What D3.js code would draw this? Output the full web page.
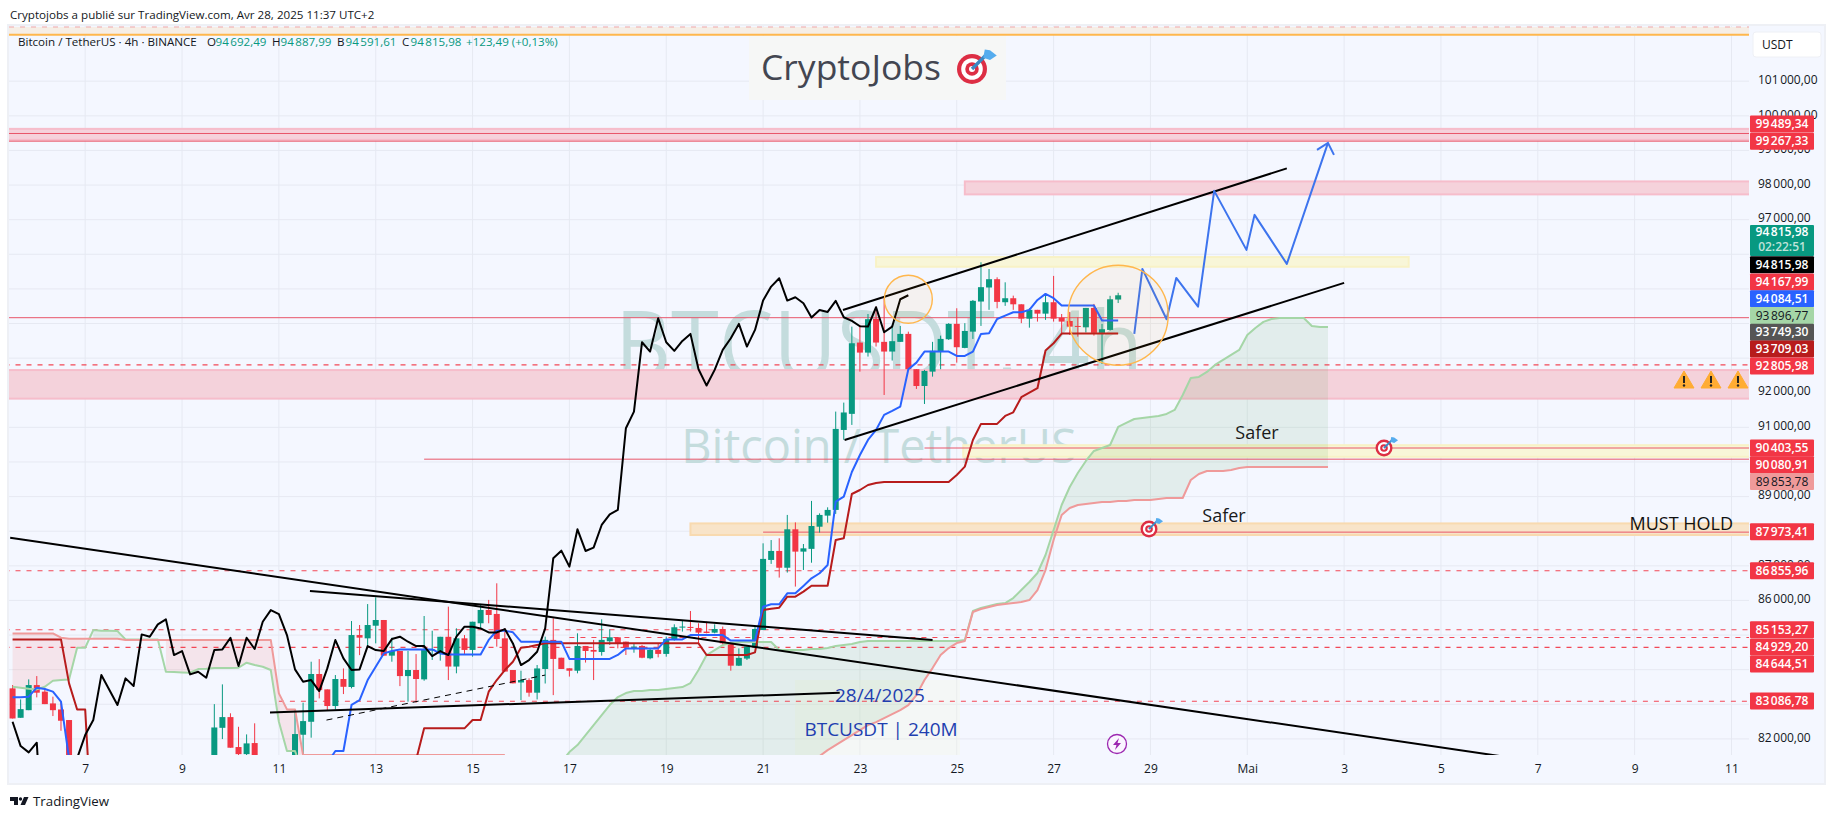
<!DOCTYPE html>
<html><head><meta charset="utf-8">
<script src="https://cdn.jsdelivr.net/npm/d3@7"></script>
<style>
html,body{margin:0;padding:0;background:#fff;width:1835px;height:819px;overflow:hidden}
svg{display:block}
text{font-family:"Open Sans","Noto Sans",sans-serif}
</style></head><body>
<svg id="c" width="1835" height="819"></svg>
<script>
// ---------- candles (4h bars, bar 0 = 7 April) ----------
const barIndex=[...d3.range(-9,-1),...d3.range(16,22),...d3.range(26,129)];
const opens=[83460,82610,82830,83555,83365,83025,82850,82545,
81300,82320,82630,81765,81560,81880,
81300,82120,82495,83875,83430,82950,83730,83500,85000,84905,
85270,85435,84405,84540,83815,83990,83720,84565,84540,84950,
84090,84905,84570,85340,85725,85610,84905,83990,83630,83700,
83335,84020,84860,84345,84040,83970,84685,84570,84510,84820,
84935,84810,84635,84685,84330,84570,84455,84860,85215,85235,
85205,85100,85070,85175,84790,84115,84320,84645,85145,87170,
87430,86945,88055,87410,87490,88130,88450,88615,90925,91390,
93450,93160,94135,93470,93190,93470,93700,92680,92195,92610,
93190,93545,93990,93295,93765,94635,95040,95280,94615,94730,
94555,94140,94395,94285,94615,94170,94075,93930,93890,94450,
93730,93815,94692.49];
const highs=[83555,83140,83720,83815,83460,83220,83075,82545,
83005,83575,82740,82350,82130,82450,
82830,83045,84230,84305,83430,83845,84035,85405,85290,85895,
86090,85435,84925,84540,84540,84450,85550,85125,84950,85820,
85195,85000,85385,85900,86015,86495,85195,83990,83970,83750,
84135,84955,85485,84345,84040,85050,84685,84860,85455,85165,
84935,84810,84760,84715,84615,84760,84955,85310,85435,85695,
85340,85385,85310,85245,84790,84615,84665,85270,87650,87745,
87795,88470,88255,87630,88875,88515,88690,91455,91715,93910,
93960,94275,94490,94780,93960,93930,93765,92680,92660,93470,
93650,94010,94440,94010,94680,95770,95575,95335,95190,94805,
94555,94440,94395,94875,95375,94275,94335,94180,94450,94565,
93990,94800,94887.99];
const lows=[82590,82610,82830,83200,83005,82660,82235,81300,
81200,81995,81745,81300,81300,81200,
81200,81500,82035,83170,82815,82850,83295,83460,84420,84645,
84760,84405,84230,83525,83075,83045,83680,84280,84260,83700,
83895,84425,84375,85195,85340,84665,83945,83605,83120,83220,
83140,83600,83265,84020,83800,83895,84205,83700,84405,84715,
84615,84425,84490,84330,84300,84355,84375,84840,85100,85100,
84760,85050,85050,84715,83970,84105,84280,84625,85145,87055,
86660,86805,86400,86880,87090,87960,88245,88500,90640,91070,
92610,93045,93335,91935,92930,93470,92680,92110,91675,92465,
92680,93525,92870,93285,93555,93930,94395,94440,94510,94395,
94010,93880,94055,94105,94055,93720,93670,93620,93740,93650,
92830,93795,94591.61];
const closes=[82590,82860,83555,83335,83005,82830,82525,81400,
82330,82630,81745,81560,81870,81300,
82140,82515,83875,83410,82950,83730,83505,85000,84925,85290,
85435,84405,84540,83815,83990,83730,84585,84585,84950,84090,
84905,84570,85385,85725,85580,84885,83945,83605,83700,83335,
84035,84860,84310,84020,83970,84685,84540,84520,84860,84935,
84760,84635,84665,84345,84570,84455,84885,85225,85245,85205,
85070,85060,85175,84760,84115,84340,84665,85175,87200,87430,
86945,88055,87410,87505,88150,88470,88615,90955,91430,93430,
93160,94125,93450,93190,93490,93700,92680,92195,92630,93210,
93555,93990,93315,93785,94655,95050,95280,94625,94730,94555,
94140,94395,94285,94615,94140,94055,93910,93910,94450,93730,
93835,94700,94815.98];

// ---------- Ichimoku series; each "start" is the bar of its first value ----------
const laggingLeft=[82496,81793,81610,81890,78000];               const laggingLeftStart=-9;
const laggingRight=[81440,82110,82544,83844,83411,82978,83748,83527,85019,84952,85308,85453,84422,84538,83864,83941,83767,84567,84586,84923,84104,84923,84596,85385,85722,85607,85000,84008,83652,83700,83382,84037,84856,84326,83989,84008,84682,84567,84538,84884,84952,84807,84682,84682,84393,84538,84422,84952,85241,85241,85192,85077,85077,85173,84759,84133,84278,84519,85192,87217,87438,86976,88055,87429,87525,88180,88488,88613,90974,91456,93459,93189,94152,93459,93209,93497,93700,92679,92207,92660,93237,93574,93989,93334,93815,94663,95067,95308,94663,94759,94586,94172,94393,94335,94653,94181,94075,93921,93911,94470,93748,93911,94701,94816];
const laggingRightStart=-1;
const conversionLeft=[83200,83200,83220,83480,83440,83365,83075,81435]; const conversionLeftStart=-9;
const conversionRight=[81300,81650,81650,82980,83120,83700,84085,84470,84540,84585,84585,84585,84585,84585,84470,84440,84440,84440,84440,84440,84860,85125,85125,85080,84810,84810,84810,84810,84810,84810,84310,84310,84310,84310,84310,84310,84425,84615,84615,84615,84615,84615,84875,84875,84875,85000,85000,85000,85000,85000,84840,84840,84840,84840,85820,85890,85890,86205,86205,86420,86640,86785,87025,88855,89000,89710,90200,90635,90925,91360,91475,91600,92680,92870,93190,93190,93190,93190,93065,93065,93190,93700,93720,94130,94230,94325,94325,94395,94680,94855,94730,94520,94520,94520,94520,94520,94085,94085,94084.51];
const conversionRightStart=30;
const baseLeft=[84875,84875,84875,84875,84875,84875,84875,83605,82850,82850,78600]; const baseLeftStart=-9;
const baseRight=[81390,82305,82305,82305,82305,82305,82305,82545,82545,83365,83700,83990,84230,84635,84665,84715,84760,84760,84760,84760,84760,84760,84760,84760,84760,84760,84760,84760,84760,84760,84760,84760,84760,84760,84760,84760,84425,84425,84425,84425,84425,84425,84500,85725,85760,85790,86110,86110,86255,86425,86425,86425,87745,87795,89075,89190,89335,89390,89420,89420,89420,89420,89420,89420,89420,89420,89420,89625,89865,90635,91100,91100,91100,91330,91435,91870,92000,92130,93220,93430,93709,93709,93709,93709,93709,93709,93709,93709.03];
const baseRightStart=41;
const spanALeft=[83507,83478,83450,83430,83507,83681,83700,83719,84634,84634,85144,85125,85125,85115,84875,84875,84875,84875,84875,83941,83931,83921,83912,84018,84027,84047,84047,84047,84056,84201,84133,84085,83989,82496,81649,81649,81000];
const spanALeftStart=-9;
const spanARight=[81330,81619,81821,82110,82399,82688,82977,83208,83324,83382,83382,83410,83410,83440,83468,83497,83613,83988,84422,84566,84711,84769,84798,84798,84798,84798,84798,84566,84566,84566,84566,84595,84595,84624,84682,84711,84740,84798,84827,84827,84827,84827,84827,84827,84827,84827,84827,84827,84827,84827,84855,85694,85780,85838,85896,85925,86069,86300,86532,86792,87312,88035,88757,89277,89682,90029,90318,90404,90491,91011,91127,91242,91271,91300,91329,91387,91503,91936,92427,92456,92601,92803,92948,93092,93237,93670,93872,94046,94132,94161,94161,94161,94161,93930,93896.77,93896.77];
const spanARightStart=59;
const spanBLeft=[85048,85048,85048,85048,85048,85048,84923,84890,84890,84890,84890,84890,84890,84890,84856,84856,84856,84856,84856,84856,84856,84856,84856,84856,84856,84856,84856,84856,84856,84856,84856,84856,84856,83315,82852,82852,81533,81533,81533,81533,81533,81533,81533,81533,81533,81533,81533,81533,81533,81533,81533,81533,81533,81533,81533,81533,81533,81533,81533,81533,81533,81533];
const spanBLeftStart=-9;
const spanBRight=[81503,81677,81821,81966,82110,82255,82399,82486,82601,82717,82833,82977,83266,83700,84046,84422,84624,84769,84827,85665,85751,85809,85867,85896,85925,85954,86012,86300,86879,87746,88468,88670,88757,88786,88815,88844,88844,88873,88873,88902,88902,88902,88930,88959,88959,88959,89480,89653,89740,89740,89740,89769,89826,89853.78,89853.78,89853.78,89853.78,89853.78,89853.78,89853.78,89853.78,89853.78,89853.78,89853.78];
const spanBRightStart=91;

// ---------- drawings: [bar, price] anchors ----------
const trendLong=[[-9.3,87812],[176.2,81474]];
const wedgeUpper=[[27.85,86272],[105,84856]];
const wedgeLower=[[22.9,82766],[93.5,83335]];
const wedgeDashed=[[29.9,82544],[57,83844]];
const channelUpper=[[93.9,94392],[148.9,98482]];
const channelLower=[[94.1,90635],[156,95173]];
const forecast=[[130,93699],[131,95577],[134,94124],[135.2,95317],[137.9,94488],[139.9,97832],[143.9,96127],[144.9,97138],[148.9,95722],[154,99219]];

// ---------- price levels ----------
const solidLevels=[[99489.34,-10],[99267.33,-10],[94167.99,-10],[90403.55,104],[90080.91,42],[87973.41,84]];
const dashedLevels=[[92805.98,-10],[86855.96,-10],[85153.27,-10],[84929.20,60],[84644.51,-10],[83086.78,24]];
const bands=[ // low, high, start bar, end bar, fill, edge
 [99305,99623,-10,220,"#f5d2db","#f6bdcb"],
 [97730,98105,109,220,"#f5d2db","#f6bdcb"],
 [91830,92655,-10,220,"#f4d2db","#f6bdcb"],
 [95640,95920,98,164,"#f8f6d8","#f8f2c6"],
 [90150,90485,108.8,220,"#f8f6d8","#f8f2c6"],
 [87890,88225,75,220,"#f8e4c9","#f8dab0"]
];
const priceTicks=d3.range(82000,101001,1000);
const coveredTicks=[96000,95000,94000,93000,90000,88000,85000,84000,83000];
const dayBars=d3.range(0,205,12);
const dayLabels=["7","9","11","13","15","17","19","21","23","25","27","29","Mai","3","5","7","9","11"];
const axisLabelTexts=["99489,34","99267,33","94815,98","94815,98","94167,99","94084,51","93896,77","93749,30","93709,03","92805,98","90403,55","90080,91","89853,78","87973,41","86855,96","85153,27","84929,20","84644,51","83086,78"];
const legendValues=["94692,49","94887,99","94591,61","94815,98"];

// ---------- layout ----------
const W=1835,H=819,L=9,R=1749,T=26,B=755;
const RED="#f23645",GREEN="#089981";
const x=d3.scaleLinear().domain([0,204]).range([85.2,85.2+204*8.07]);
const y=d3.scaleLinear().domain([82000,101000]).range([738.9,81.2]);
const nb=s=>s.replace(/^(\d+)(\d{3},\d\d)$/,"$1\u202f$2");
const svg=d3.select("#c");

// panel
svg.append("rect").attr("x",L-1).attr("y",T-1).attr("width",1825-L+1).attr("height",784-T+1).attr("fill","#f4f7ff").attr("stroke","#eef0f5").attr("stroke-width",2);
svg.append("defs").append("clipPath").attr("id","pl").append("rect").attr("x",L).attr("y",T).attr("width",R-L).attr("height",B-T);
const g=svg.append("g").attr("clip-path","url(#pl)");

// grid
g.append("g").selectAll("line").data(dayBars).join("line").attr("x1",d=>x(d)).attr("x2",d=>x(d)).attr("y1",T).attr("y2",B).attr("stroke","#e6e9f2").attr("stroke-width",1);
g.append("g").selectAll("line").data(priceTicks).join("line").attr("x1",L).attr("x2",R).attr("y1",d=>y(d)).attr("y2",d=>y(d)).attr("stroke","#e6e9f2").attr("stroke-width",1);

// logo panel + watermark
g.append("rect").attr("x",749).attr("y",36).attr("width",257).attr("height",64).attr("fill","#f6f7f6");
g.append("rect").attr("x",795).attr("y",680).attr("width",165).attr("height",75).attr("fill","#f3f6e6").attr("opacity",.35);
g.append("text").attr("x",615).attr("y",379).attr("font-size",96).attr("fill","#c4dcdd").attr("textLength",528).attr("lengthAdjust","spacingAndGlyphs").text("BTCUSDT, 4h");
g.append("text").attr("x",879).attr("y",463).attr("text-anchor","middle").attr("font-size",47).attr("fill","#c4dcdd").text("Bitcoin / TetherUS");

// top strip
g.append("rect").attr("x",L).attr("y",27).attr("width",R-L).attr("height",8).attr("fill","#f6eee6");
g.append("line").attr("x1",L).attr("x2",R).attr("y1",27).attr("y2",27).attr("stroke","#f0a8a8").attr("stroke-width",1.2).attr("stroke-dasharray","5 6");
g.append("line").attr("x1",L).attr("x2",R).attr("y1",34.7).attr("y2",34.7).attr("stroke","#ffb74d").attr("stroke-width",2);

// bands
g.append("g").selectAll("rect").data(bands).join("rect")
 .attr("x",d=>x(d[2])).attr("width",d=>x(d[3])-x(d[2]))
 .attr("y",d=>y(d[1])).attr("height",d=>y(d[0])-y(d[1]))
 .attr("fill",d=>d[4]).attr("stroke",d=>d[5]).attr("stroke-width",2);

// cloud
const series=(left,ls,right,rs)=>{const m=new Map();left.forEach((v,k)=>m.set(ls+k,v));right.forEach((v,k)=>m.set(rs+k,v));return m;};
const A=series(spanALeft,spanALeftStart,spanARight,spanARightStart);
const Bs=series(spanBLeft,spanBLeftStart,spanBRight,spanBRightStart);
const bars=d3.range(-9,155);
const yA=i=>y(A.get(i)), yB=i=>Bs.has(i)?y(Bs.get(i)):B+40;
const areaUp=d3.area().curve(d3.curveLinear).x(d=>x(d)).y0(yB).y1(yA).defined(d=>A.has(d)&&(!Bs.has(d)||A.get(d)>=Bs.get(d)));
const areaDown=d3.area().curve(d3.curveLinear).x(d=>x(d)).y0(yB).y1(yA).defined(d=>A.has(d)&&Bs.has(d)&&A.get(d)<=Bs.get(d));
g.append("path").datum(bars).attr("d",areaUp).attr("fill","#43a047").attr("opacity",.1);
g.append("path").datum(bars).attr("d",areaDown).attr("fill","#f44336").attr("opacity",.1);

// levels
g.append("g").selectAll("line").data(solidLevels).join("line").attr("x1",d=>x(d[1])).attr("x2",R).attr("y1",d=>y(d[0])).attr("y2",d=>y(d[0])).attr("stroke","#e8566a").attr("stroke-width",1);
g.append("g").selectAll("line").data(dashedLevels).join("line").attr("x1",d=>x(d[1])).attr("x2",R).attr("y1",d=>y(d[0])).attr("y2",d=>y(d[0])).attr("stroke",RED).attr("stroke-width",1.1).attr("stroke-dasharray","5 6").attr("opacity",.9);

// candles
const candles=barIndex.map((b,k)=>({b,o:opens[k],h:highs[k],l:lows[k],c:closes[k]}));
const cg=g.append("g").selectAll("g").data(candles).join("g").attr("fill",d=>d.c>=d.o?GREEN:RED).attr("stroke",d=>d.c>=d.o?GREEN:RED);
cg.append("line").attr("x1",d=>x(d.b)).attr("x2",d=>x(d.b)).attr("y1",d=>y(d.h)).attr("y2",d=>y(d.l)).attr("stroke-width",1);
cg.append("rect").attr("x",d=>x(d.b)-3).attr("width",6).attr("y",d=>y(Math.max(d.o,d.c))).attr("height",d=>Math.max(1,Math.abs(y(d.o)-y(d.c)))).attr("stroke","none");

// indicator lines
const line=d3.line().x(d=>x(d[0])).y(d=>y(d[1]));
const seg=(vals,start)=>vals.map((v,k)=>[start+k,v]);
const draw=(pts,color,w,extra={})=>{const p=g.append("path").attr("d",line(pts)).attr("fill","none").attr("stroke",color).attr("stroke-width",w).attr("stroke-linejoin","round");Object.entries(extra).forEach(([k,v])=>p.attr(k,v));return p;};
draw(seg(spanALeft,spanALeftStart),"#a5d6a7",2);
draw(seg(spanARight,spanARightStart),"#a5d6a7",2);
draw(seg(spanBLeft,spanBLeftStart),"#ef9a9a",2);
draw(seg(spanBRight,spanBRightStart),"#ef9a9a",2);
draw(seg(baseLeft,baseLeftStart),"#b71c1c",2);
draw(seg(baseRight,baseRightStart),"#b71c1c",2);
draw(seg(conversionLeft,conversionLeftStart),"#2962ff",2);
draw(seg(conversionRight,conversionRightStart),"#2962ff",2);
draw(seg(laggingLeft,laggingLeftStart),"#000",2);
draw(seg(laggingRight,laggingRightStart),"#000",2);

// trend lines
[trendLong,wedgeUpper,wedgeLower,channelUpper,channelLower].forEach(t=>draw(t,"#000",2));
draw(wedgeDashed,"#000",1,{"stroke-dasharray":"6 5"});

// forecast with arrow
draw(forecast,"#3d74ee",2);
{const tip=forecast[forecast.length-1],tx=x(tip[0]),ty=y(tip[1]);
 g.append("path").attr("d",`M${tx-11},${ty+7}L${tx},${ty}L${tx+6},${ty+12}`).attr("fill","none").attr("stroke","#3d74ee").attr("stroke-width",2);}

// circles
const circ=(b,p,r)=>g.append("circle").attr("cx",x(b)).attr("cy",y(p)).attr("r",x(r)-x(0)).attr("fill","#ff9800").attr("fill-opacity",.06).attr("stroke","#ffb74d").attr("stroke-width",1.4);
circ(102,94700,2.97);circ(128,94239,6.2);

// texts on chart
const label=(tx,ty,s,size,color,anchor="start",w=400)=>g.append("text").attr("x",tx).attr("y",ty).attr("font-size",size).attr("fill",color).attr("text-anchor",anchor).attr("font-weight",w).text(s);
label(761,80,"CryptoJobs",35.5,"#434651");
label(1257,439,"Safer",18,"#1a1a1a","middle");
label(1224,522,"Safer",18,"#1a1a1a","middle");
label(1733,530,"MUST HOLD",18,"#111","end");
label(880,702,"28/4/2025",19,"#1f3fb0","middle");
label(881,736,"BTCUSDT | 240M",19,"#1f3fb0","middle");

// target icon
function target(cx,cy,r){
 const t=g.append("g");
 [[1,"#dd2e44"],[.72,"#fff"],[.45,"#dd2e44"],[.2,"#fff"]].forEach(([k,c])=>t.append("circle").attr("cx",cx).attr("cy",cy).attr("r",r*k).attr("fill",c));
 t.append("line").attr("x1",cx).attr("y1",cy).attr("x2",cx+r*1.05).attr("y2",cy-r*1.05).attr("stroke","#3b88c3").attr("stroke-width",r*.22);
 t.append("path").attr("d",`M${cx+r*.75},${cy-r*.75}l${r*.1},${-r*.55}l${r*.35},${r*.05}l${r*.45},${r*.35}l${-r*.45},${r*.3}z`).attr("fill","#55acee");
}
target(972,69,15);
target(1384,448,8.5);
target(1149,529,8.5);

// warning triangles
[1684,1711,1738].forEach(cx=>{
 g.append("path").attr("d",`M${cx},371L${cx+10},388L${cx-10},388Z`).attr("fill","#ffac33").attr("stroke","#ffac33").attr("stroke-linejoin","round");
 g.append("rect").attr("x",cx-1).attr("y",376).attr("width",2).attr("height",7).attr("fill","#222");
 g.append("circle").attr("cx",cx).attr("cy",385.5).attr("r",1.2).attr("fill","#222");
});

// lightning
g.append("circle").attr("cx",1117).attr("cy",744).attr("r",9.5).attr("fill","#faf6ff").attr("stroke","#9c27b0").attr("stroke-width",1.3);
g.append("path").attr("d","M1119,738L1113,745L1116.5,745L1115,750L1121,743L1117.5,743Z").attr("fill","#9c27b0");

// price axis through d3
const yAxis=d3.axisRight(y).tickValues(priceTicks.filter(t=>!coveredTicks.includes(t))).tickSize(0).tickPadding(0).tickFormat(d=>nb(d3.format("d")(d)+",00"));
const ya=svg.append("g").attr("transform","translate(1758,-1.6)").call(yAxis);
ya.select(".domain").remove();
ya.selectAll("text").attr("font-size",12).attr("fill","#131722").attr("font-family","'Open Sans'");

// time axis through d3
const xAxis=d3.axisBottom(x).tickValues(dayBars).tickSize(0).tickPadding(0).tickFormat((d,k)=>dayLabels[k]);
const xa=svg.append("g").attr("transform","translate(0,764.5)").call(xAxis);
xa.select(".domain").remove();
xa.selectAll("text").attr("font-size",12).attr("fill","#131722").attr("font-family","'Open Sans'");

// price labels (stacked as on the reference)
const labelCenters=[124,141.2,null,264.7,282,298.7,315.5,332.2,349,366,448,464.7,481.6,531.7,570.8,629.8,647,664,701];
const labelFills=[RED,RED,GREEN,"#000",RED,"#2962ff","#a5d6a7","#555","#b71c1c",RED,RED,RED,"#ef9a9a",RED,RED,RED,RED,RED,RED];
const labelInk=labelFills.map(c=>(c==="#a5d6a7"||c==="#ef9a9a")?"#131722":"#fff");
const al=svg.append("g");
axisLabelTexts.forEach((t,k)=>{
 const cy=labelCenters[k];
 if(cy===null){
  al.append("rect").attr("x",1750).attr("y",225).attr("width",64).attr("height",31).attr("fill",labelFills[k]).attr("rx",1);
  al.append("text").attr("x",1782).attr("y",236).attr("text-anchor","middle").attr("font-size",12).attr("font-weight",600).attr("fill","#fff").text(nb(t));
  al.append("text").attr("x",1782).attr("y",251).attr("text-anchor","middle").attr("font-size",12).attr("font-weight",600).attr("fill","#bfe3da").text("02:22:51");
 }else{
  al.append("rect").attr("x",1750).attr("y",cy-8.5).attr("width",64).attr("height",17).attr("fill",labelFills[k]).attr("rx",1);
  al.append("text").attr("x",1782).attr("y",cy+4.2).attr("text-anchor","middle").attr("font-size",12).attr("font-weight",labelInk[k]==="#fff"?600:400).attr("fill",labelInk[k]).text(nb(t));
 }
});

// USDT button
svg.append("rect").attr("x",1753).attr("y",32).attr("width",68).attr("height",25).attr("rx",3).attr("fill","#fff").attr("stroke","#eef0f5");
svg.append("text").attr("x",1762).attr("y",49).attr("font-size",12).attr("fill","#131722").text("USDT");

// header
svg.append("text").attr("x",10).attr("y",19).attr("font-size",11.6).attr("fill","#131722").text("Cryptojobs a publié sur TradingView.com, Avr 28, 2025 11:37 UTC+2");
const leg=(tx,s,c)=>svg.append("text").attr("x",tx).attr("y",46).attr("font-size",11.6).attr("fill",c).text(s);
leg(18,"Bitcoin / TetherUS · 4h · BINANCE","#131722");
[["O",207],["H",272],["B",337],["C",402]].forEach(([s,tx],k)=>{leg(tx,s,"#131722");leg(tx+8.5,nb(legendValues[k]),GREEN);});
leg(466,"+123,49 (+0,13%)",GREEN);

// footer logo
const lf=svg.append("g").attr("fill","#131722");
lf.append("path").attr("d","M10,797H18V805H14V801H10Z");
lf.append("circle").attr("cx",20.5).attr("cy",799).attr("r",1.7);
lf.append("path").attr("d","M24,797H28.5L25,805H20.5Z");
svg.append("text").attr("x",33).attr("y",806).attr("font-size",13.3).attr("fill","#131722").text("TradingView");
</script>
</body></html>
